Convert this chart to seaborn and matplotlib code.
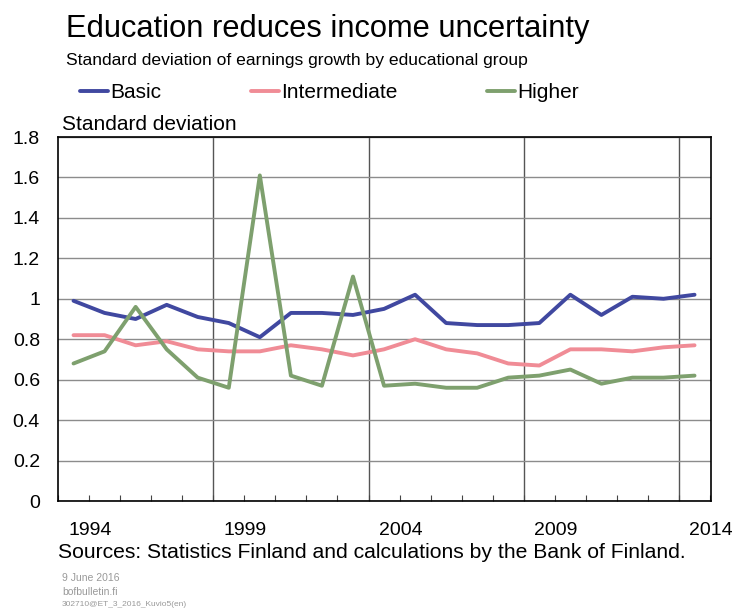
import numpy as np
import pandas as pd
import matplotlib
matplotlib.use("Agg")
import matplotlib.pyplot as plt
import seaborn as sns

years = list(range(1994, 2015))
basic = [0.99, 0.93, 0.90, 0.97, 0.91, 0.88, 0.81, 0.93, 0.93, 0.92, 0.95,
         1.02, 0.88, 0.87, 0.87, 0.88, 1.02, 0.92, 1.01, 1.00, 1.02]
intermediate = [0.82, 0.82, 0.77, 0.79, 0.75, 0.74, 0.74, 0.77, 0.75, 0.72, 0.75,
                0.80, 0.75, 0.73, 0.68, 0.67, 0.75, 0.75, 0.74, 0.76, 0.77]
higher = [0.68, 0.74, 0.96, 0.75, 0.61, 0.56, 1.61, 0.62, 0.57, 1.11, 0.57,
          0.58, 0.56, 0.56, 0.61, 0.62, 0.65, 0.58, 0.61, 0.61, 0.62]
groups = ["Basic", "Intermediate", "Higher"]
colors = ["#4048A0", "#F08C96", "#7EA06E"]
x_labels = [1994, 1999, 2004, 2009, 2014]

df = pd.DataFrame({
    "year": years * 3,
    "value": basic + intermediate + higher,
    "group": [g for g in groups for _ in years],
})

sns.set_theme(style="white")
plt.rcParams["font.family"] = ["Liberation Sans", "DejaVu Sans"]
plt.rcParams["text.color"] = "black"

fig = plt.figure(figsize=(7.38, 6.10), dpi=100)
ax = fig.add_axes([58 / 738, 109 / 610, 653 / 738, 364 / 610])

# grid first so lines sit on top
ax.set_ylim(0, 1.8)
ax.set_xlim(years[0] - 0.5, years[-1] + 0.5)
ax.set_yticks(np.arange(0, 1.81, 0.2))
ax.set_yticklabels(["0", "0.2", "0.4", "0.6", "0.8", "1", "1.2", "1.4", "1.6", "1.8"])
ax.yaxis.grid(True, color="#8c8c8c", linewidth=1.0)
ax.xaxis.grid(False)
for y in x_labels[1:]:
    ax.axvline(y - 0.5, color="#555555", linewidth=1.0, zorder=0.5)

sns.lineplot(data=df, x="year", y="value", hue="group", palette=colors,
             linewidth=2.8, ax=ax, zorder=3)

ax.set_xticks([y + 0.53 for y in x_labels])
ax.set_xticklabels([str(y) for y in x_labels])
ax.set_xticks([y - 0.5 for y in years] + [years[-1] + 0.5], minor=True)
ax.tick_params(axis="x", which="major", length=0, pad=15, labelsize=14, colors="black")
ax.tick_params(axis="x", which="minor", direction="in", length=4, width=0.8,
               color="#444444", bottom=True)
ax.tick_params(axis="y", length=0, pad=13, labelsize=14, colors="black")
for s in ax.spines.values():
    s.set_color("black")
    s.set_linewidth(1.2)
ax.set_xlabel("")
ax.set_ylabel("")

sns.move_legend(ax, "center left", bbox_to_anchor=(0.034, 1.121), ncol=3,
                frameon=False, title=None, fontsize=15, handlelength=1.35,
                handletextpad=0.1, columnspacing=4.3, borderpad=0, borderaxespad=0)
for line in ax.get_legend().get_lines():
    line.set_linewidth(2.8)

ax.text(0.006, 1.008, "Standard deviation", transform=ax.transAxes, fontsize=15,
        ha="left", va="bottom")

fig.text(66 / 738, 1 - 37 / 610, "Education reduces income uncertainty",
         fontsize=22.2, ha="left", va="baseline")
fig.text(66 / 738, 1 - 65.5 / 610, "Standard deviation of earnings growth by educational group",
         fontsize=12.6, ha="left", va="baseline")
fig.text(58 / 738, 1 - 558 / 610,
         "Sources: Statistics Finland and calculations by the Bank of Finland.",
         fontsize=15.2, ha="left", va="baseline")
fig.text(62 / 738, 1 - 578 / 610, "9 June 2016", fontsize=7.5, color="#999999", va="center")
fig.text(62 / 738, 1 - 592 / 610, "bofbulletin.fi", fontsize=7.5, color="#999999", va="center")
fig.text(62 / 738, 1 - 605 / 610, "302710@ET_3_2016_Kuvio5(en)", fontsize=6, color="#999999",
         va="center")

fig.savefig("out.png", dpi=100)
